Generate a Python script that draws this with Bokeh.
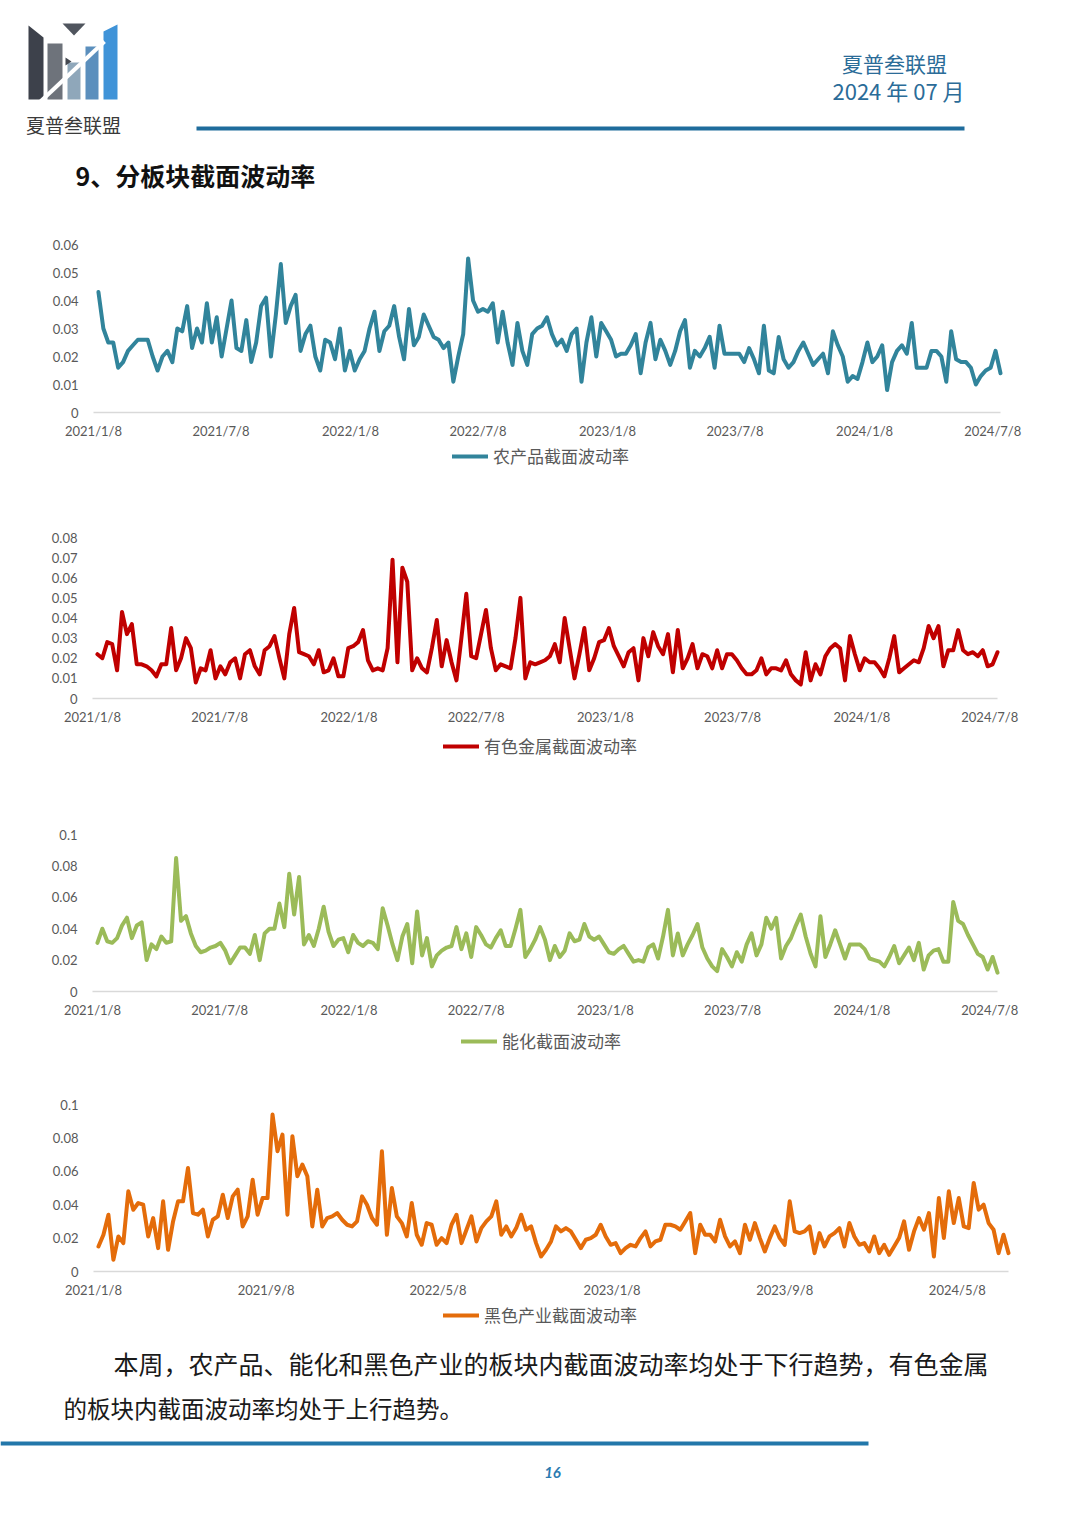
import pandas as pd
from bokeh.plotting import figure
from bokeh.layouts import column
from bokeh.models import (Range1d, FixedTicker, CustomJSTickFormatter, Legend,
                          LegendItem, ColumnDataSource)
from bokeh.embed import file_html
from bokeh.resources import INLINE
from bokeh.core.properties import value

W = 1080
CJK = "Noto Sans CJK SC"

# ---------------- data ----------------
AXIS_START = pd.Timestamp("2021-01-08")
AXIS_END = pd.Timestamp("2024-07-19")
dates = pd.date_range("2021-01-15", "2024-07-19", freq="7D")   # weekly observations
x_days = [int(d) for d in (dates - AXIS_START).days]
X_END = int((AXIS_END - AXIS_START).days)

ticks_half_year = ["2021/1/8", "2021/7/8", "2022/1/8", "2022/7/8",
                   "2023/1/8", "2023/7/8", "2024/1/8", "2024/7/8"]
ticks_8_months = ["2021/1/8", "2021/9/8", "2022/5/8", "2023/1/8",
                  "2023/9/8", "2024/5/8"]

agri = [
    .043, .030, .025, .025, .016, .018, .022, .024, .026, .026,
    .026, .020, .015, .020, .022, .018, .030, .029, .038, .023,
    .030, .025, .039, .025, .034, .020, .030, .040, .023, .022,
    .033, .018, .025, .038, .041, .020, .035, .053, .032, .038,
    .042, .022, .028, .031, .020, .015, .026, .025, .019, .030,
    .015, .022, .015, .019, .022, .030, .036, .022, .029, .031,
    .038, .027, .019, .037, .024, .027, .035, .031, .027, .026,
    .023, .025, .011, .020, .028, .055, .040, .036, .037, .036,
    .039, .025, .036, .025, .017, .032, .022, .017, .028, .030,
    .031, .034, .028, .024, .026, .022, .028, .030, .011, .025,
    .034, .020, .032, .029, .026, .020, .021, .021, .024, .028,
    .014, .025, .032, .019, .026, .022, .017, .022, .029, .033,
    .016, .022, .020, .023, .027, .016, .031, .021, .021, .021,
    .021, .018, .023, .019, .014, .031, .015, .014, .027, .019,
    .016, .018, .022, .025, .021, .017, .019, .021, .014, .029,
    .024, .020, .011, .013, .012, .018, .025, .018, .020, .024,
    .008, .018, .022, .024, .021, .032, .016, .016, .016, .022,
    .022, .020, .011, .029, .019, .018, .018, .016, .010, .013,
    .015, .016, .022, .014,
]

metals = [
    .022, .020, .028, .027, .014, .043, .032, .037, .017, .017,
    .016, .014, .011, .017, .017, .035, .014, .020, .030, .025,
    .008, .015, .014, .024, .010, .016, .012, .018, .020, .010,
    .022, .024, .016, .012, .024, .026, .031, .020, .010, .032,
    .045, .023, .022, .021, .017, .024, .013, .014, .020, .011,
    .011, .025, .026, .028, .034, .019, .014, .015, .014, .025,
    .069, .018, .065, .058, .014, .020, .015, .013, .025, .039,
    .016, .029, .018, .009, .030, .052, .021, .020, .032, .044,
    .025, .014, .017, .016, .015, .030, .050, .010, .018, .017,
    .018, .019, .021, .027, .018, .040, .025, .010, .022, .035,
    .014, .020, .028, .029, .035, .026, .021, .016, .023, .025,
    .009, .030, .021, .033, .026, .022, .032, .013, .034, .015,
    .020, .027, .015, .022, .021, .015, .024, .015, .022, .022,
    .019, .015, .012, .012, .014, .020, .012, .015, .015, .014,
    .019, .012, .009, .007, .023, .009, .017, .012, .021, .025,
    .027, .025, .009, .031, .022, .014, .020, .018, .018, .015,
    .011, .020, .031, .013, .015, .017, .019, .018, .025, .036,
    .030, .036, .016, .024, .024, .034, .024, .022, .023, .021,
    .024, .016, .017, .023,
]

energy = [
    .031, .040, .032, .031, .034, .042, .047, .034, .042, .044,
    .020, .030, .027, .035, .031, .032, .085, .045, .048, .037,
    .029, .025, .026, .028, .029, .031, .026, .018, .023, .028,
    .028, .024, .036, .020, .037, .040, .040, .056, .041, .075,
    .049, .073, .030, .036, .029, .040, .054, .038, .029, .033,
    .034, .025, .036, .031, .029, .032, .031, .027, .053, .042,
    .030, .020, .035, .043, .018, .051, .023, .034, .016, .023,
    .026, .028, .029, .041, .027, .037, .022, .041, .036, .030,
    .028, .034, .039, .029, .029, .040, .052, .022, .027, .033,
    .041, .033, .020, .029, .022, .026, .037, .032, .033, .043,
    .035, .033, .035, .030, .025, .024, .027, .029, .024, .019,
    .020, .019, .028, .030, .021, .035, .052, .023, .037, .023,
    .030, .036, .043, .028, .021, .016, .013, .027, .022, .016,
    .025, .019, .030, .037, .023, .030, .047, .040, .047, .021,
    .029, .034, .042, .049, .035, .024, .016, .048, .022, .030,
    .039, .030, .021, .030, .030, .030, .027, .021, .020, .019,
    .016, .022, .029, .018, .023, .028, .020, .031, .014, .023,
    .026, .027, .019, .019, .057, .045, .043, .036, .030, .024,
    .022, .014, .022, .012,
]

ferrous = [
    .015, .022, .034, .007, .021, .017, .048, .037, .041, .040,
    .021, .032, .014, .042, .013, .030, .042, .042, .062, .035,
    .034, .037, .021, .031, .033, .046, .032, .045, .049, .027,
    .033, .055, .034, .044, .044, .094, .072, .082, .034, .081,
    .057, .064, .057, .027, .049, .027, .032, .033, .035, .031,
    .028, .027, .030, .045, .040, .032, .028, .072, .022, .050,
    .033, .029, .021, .041, .022, .016, .029, .028, .016, .020,
    .017, .028, .034, .017, .025, .033, .018, .026, .030, .033,
    .042, .022, .027, .021, .026, .034, .025, .027, .017, .009,
    .013, .018, .027, .024, .026, .024, .019, .014, .019, .020,
    .022, .028, .021, .016, .017, .011, .014, .016, .015, .020,
    .024, .015, .018, .019, .028, .028, .027, .025, .030, .035,
    .011, .028, .022, .022, .018, .031, .021, .015, .018, .011,
    .028, .019, .029, .020, .012, .020, .027, .020, .016, .042,
    .024, .023, .024, .027, .011, .023, .015, .021, .023, .026,
    .015, .029, .021, .016, .017, .012, .021, .011, .016, .010,
    .015, .020, .030, .013, .024, .032, .025, .035, .009, .044,
    .020, .048, .029, .044, .027, .026, .053, .037, .040, .029,
    .025, .011, .022, .011,
]

series_names = ["农产品截面波动率", "有色金属截面波动率", "能化截面波动率", "黑色产业截面波动率"]
series_colors = ["#31849b", "#c00000", "#9bbb59", "#e46c0a"]

LABEL_GRAY = "#595959"
FRAME_L, FRAME_R = 40, 1040        # page px of every chart frame (wide, so labels are not clipped)


def day_of(label):
    return int((pd.to_datetime(label, format="%Y/%m/%d") - AXIS_START).days)


def no_align(p):
    try:
        p.frame_align = False
    except Exception:
        pass


def page_canvas(height, top):
    p = figure(width=W, height=height, output_backend="svg", toolbar_location=None,
               x_range=Range1d(0, W), y_range=Range1d(top + height, top),
               min_border=0, min_border_left=0, min_border_right=0,
               min_border_top=0, min_border_bottom=0,
               x_axis_location=None, y_axis_location=None)
    p.outline_line_color = None
    p.xgrid.visible = False
    p.ygrid.visible = False
    p.background_fill_color = "white"
    p.border_fill_color = "white"
    no_align(p)
    return p


def chart(vals, color, name, ymax, ystep, tick_labels, fig_top, fig_bottom,
          top_px, zero_px, frame_top_px, frame_bottom_px, left_px, right_px,
          legend_left_px, legend_mid_px):
    """Page-pixel layout: day 0 sits at left_px, the last day at right_px,
    y=0 at zero_px and y=ymax at top_px.  The frame is larger than that area so the
    pinned axes' labels and the legend are drawn inside it."""
    height = fig_bottom - fig_top
    ppd = (right_px - left_px) / X_END
    ppu = (zero_px - top_px) / ymax
    x_rng = Range1d(-(left_px - FRAME_L) / ppd, X_END + (FRAME_R - right_px) / ppd)
    y_rng = Range1d(-(frame_bottom_px - zero_px) / ppu, ymax + (top_px - frame_top_px) / ppu)
    p = figure(width=W, height=height, output_backend="svg", toolbar_location=None,
               x_range=x_rng, y_range=y_rng,
               min_border_left=FRAME_L, min_border_right=W - FRAME_R,
               min_border_top=frame_top_px - fig_top,
               min_border_bottom=fig_bottom - frame_bottom_px)
    no_align(p)
    p.outline_line_color = None
    p.xgrid.visible = False
    p.ygrid.visible = False

    # category axis base line (y = 0 across the date span)
    p.segment(x0=[0], y0=[0], x1=[X_END], y1=[0], line_color="#d9d9d9", line_width=1.5)

    src = ColumnDataSource(dict(x=x_days, y=vals))
    r = p.line("x", "y", source=src, line_color=color, line_width=4,
               line_join="round", line_cap="round")

    n = int(round(ymax / ystep))
    p.yaxis.fixed_location = 0
    p.yaxis.ticker = FixedTicker(ticks=[round(k * ystep, 4) for k in range(n + 1)])
    p.yaxis.formatter = CustomJSTickFormatter(code="return Number(tick.toFixed(4)).toString();")
    p.yaxis.axis_line_color = None
    p.yaxis.major_tick_line_color = None
    p.yaxis.minor_tick_line_color = None
    p.yaxis.major_tick_out = 0
    p.yaxis.major_label_standoff = 15
    p.yaxis.major_label_text_font = "Lato"
    p.yaxis.major_label_text_font_size = "13px"
    p.yaxis.major_label_text_color = LABEL_GRAY

    tick_days = [day_of(t) for t in tick_labels]
    p.xaxis.fixed_location = 0
    p.xaxis.ticker = FixedTicker(ticks=tick_days)
    p.xaxis.major_label_overrides = {d: t for d, t in zip(tick_days, tick_labels)}
    p.xaxis.axis_line_color = None
    p.xaxis.major_tick_line_color = None
    p.xaxis.minor_tick_line_color = None
    p.xaxis.major_tick_out = 0
    p.xaxis.major_label_standoff = 10
    p.xaxis.major_label_text_font = "Lato"
    p.xaxis.major_label_text_font_size = "13px"
    p.xaxis.major_label_text_color = LABEL_GRAY

    leg_h = 20
    leg = Legend(items=[LegendItem(label=value(name), renderers=[r])],
                 orientation="horizontal",
                 location=(legend_left_px - FRAME_L, frame_bottom_px - (legend_mid_px + leg_h / 2)),
                 border_line_color=None, background_fill_alpha=0,
                 glyph_width=36, glyph_height=leg_h, label_height=leg_h,
                 label_text_font=CJK, label_text_font_size="17px",
                 label_text_color=LABEL_GRAY, label_standoff=5,
                 padding=0, margin=0, spacing=0)
    p.add_layout(leg, "center")
    return p


# ---------------- header ----------------
H_TOP, H_H = 0, 214
hdr = page_canvas(H_H, H_TOP)
logo_xs = [[28, 43, 43, 28], [62, 85, 73.5], [47, 62, 62, 47], [67, 80, 80, 67],
           [85, 98, 98, 85], [103, 117, 117, 103]]
logo_ys = [[25, 37, 99, 99], [23, 23, 35], [43, 43, 99, 99], [62, 62, 99, 99],
           [46, 46, 99, 99], [31, 24, 99, 99]]
logo_cols = ["#3d414b", "#50555e", "#6e737b", "#8fa7ba", "#5b8fbd", "#3f93d8"]
hdr.patches(xs=logo_xs, ys=logo_ys, fill_color=logo_cols, line_color=None)
hdr.line(x=[40, 104], y=[101, 41], line_color="white", line_width=4)
hdr.patches(xs=[[65, 71, 65]], ys=[[57, 61, 65]], fill_color="#444850", line_color=None)
hdr.text(x=[73], y=[124], text=["夏普叁联盟"], text_font=value(CJK), text_font_size="19px",
         text_color="#3a3a3a", text_align="center", text_baseline="middle")
hdr.text(x=[894], y=[62], text=["夏普叁联盟"], text_font=value(CJK), text_font_size="21px",
         text_color="#2b6c98", text_align="center", text_baseline="middle")
hdr.text(x=[898], y=[89], text=["2024 年 07 月"], text_font=value(CJK), text_font_size="22px",
         text_color="#2b6c98", text_align="center", text_baseline="middle")
hdr.line(x=[196, 964], y=[128, 128], line_color="#1f6c9c", line_width=4)
hdr.text(x=[75], y=[174], text=["9、分板块截面波动率"], text_font=value(CJK),
         text_font_size="25px", text_font_style="bold", text_color="#111111",
         text_align="left", text_baseline="middle")

# ---------------- charts ----------------
c1 = chart(agri, series_colors[0], series_names[0], 0.06, 0.01, ticks_half_year,
           fig_top=214, fig_bottom=494, top_px=244, zero_px=412,
           frame_top_px=228, frame_bottom_px=476, left_px=93, right_px=1000,
           legend_left_px=452, legend_mid_px=458)
c2 = chart(metals, series_colors[1], series_names[1], 0.08, 0.01, ticks_half_year,
           fig_top=494, fig_bottom=784, top_px=537, zero_px=698,
           frame_top_px=522, frame_bottom_px=766, left_px=92, right_px=997,
           legend_left_px=443, legend_mid_px=748)
c3 = chart(energy, series_colors[2], series_names[2], 0.1, 0.02, ticks_half_year,
           fig_top=784, fig_bottom=1074, top_px=834, zero_px=991,
           frame_top_px=819, frame_bottom_px=1060, left_px=92, right_px=997,
           legend_left_px=461, legend_mid_px=1043)
c4 = chart(ferrous, series_colors[3], series_names[3], 0.1, 0.02, ticks_8_months,
           fig_top=1074, fig_bottom=1346, top_px=1104, zero_px=1271,
           frame_top_px=1089, frame_bottom_px=1334, left_px=93, right_px=1008,
           legend_left_px=443, legend_mid_px=1317)

# ---------------- footer ----------------
F_TOP, F_H = 1346, 180
ftr = page_canvas(F_H, F_TOP)
ftr.text(x=[113], y=[1362], text=["本周，农产品、能化和黑色产业的板块内截面波动率均处于下行趋势，有色金属"],
         text_font=value(CJK), text_font_size="25px", text_color="#1a1a1a",
         text_align="left", text_baseline="middle")
ftr.text(x=[63], y=[1407], text=["的板块内截面波动率均处于上行趋势。"],
         text_font=value(CJK), text_font_size="23.5px", text_color="#1a1a1a",
         text_align="left", text_baseline="middle")
ftr.line(x=[0, 868], y=[1443, 1443], line_color="#2277aa", line_width=4)
ftr.text(x=[552], y=[1472], text=["16"], text_font=value("Lato"), text_font_size="15px",
         text_font_style="bold italic", text_color="#2a7ab0",
         text_align="center", text_baseline="middle")

page = column(hdr, c1, c2, c3, c4, ftr, spacing=0)
open("out.html", "w").write(file_html(page, INLINE, title="分板块截面波动率"))
